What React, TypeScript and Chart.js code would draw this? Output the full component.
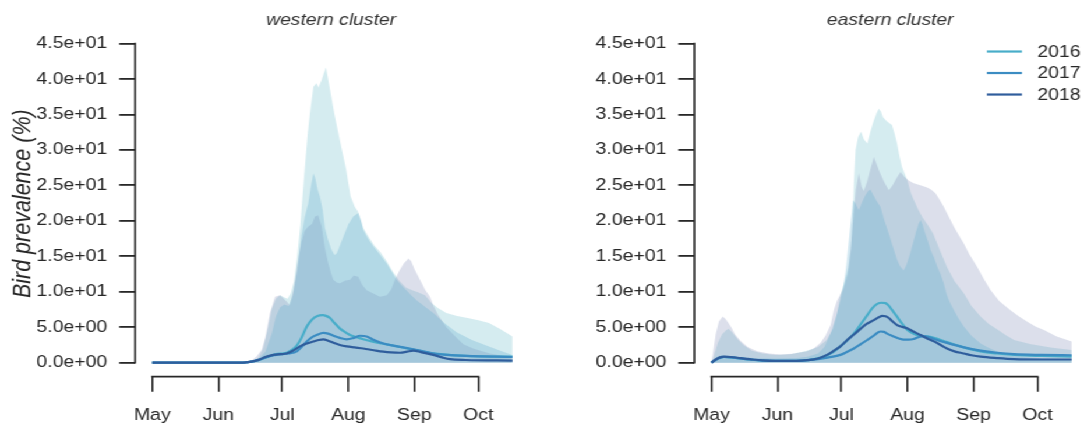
import { useEffect, useRef } from 'react';
import { Chart, registerables } from 'chart.js';

Chart.register(...registerables);

type Pt = [number, number];

const FONT_FAMILY = '"Liberation Sans", Arial, Helvetica, sans-serif';
const INK = '#282828';

// The figure is drawn narrow and widened with a CSS horizontal stretch.
const STRETCH_X = 1.165;
const PANEL_W = 480;
const PANEL_H = 427;

// x values are days counted from 1 May
const monthStarts = [0, 31, 61, 92, 123, 153];
const monthLabels = ['May', 'Jun', 'Jul', 'Aug', 'Sep', 'Oct'];
const yTickValues = [0, 5, 10, 15, 20, 25, 30, 35, 40, 45];
const years = ['2016', '2017', '2018'];
const lineColors = ['#48adc9', '#3b8cc2', '#2f5d9c'];
const bandColors = [
  'rgba(135, 201, 212, 0.35)',
  'rgba(102, 174, 210, 0.30)',
  'rgba(138, 148, 188, 0.30)',
];

// ---- western cluster: upper limits of the prevalence bands ----
const westBand2016: Pt[] = [
  [0, 0.05], [30, 0.05], [44, 0.1], [48, 0.3], [50, 0.8], [52, 2], [54, 4.5], [56, 7.5], [58, 9],
  [60, 9.5], [62, 9.2], [63.5, 9], [65, 9.8], [66.5, 11.5], [68, 15], [69.5, 19.5], [70.5, 23.5],
  [72, 29], [73, 32.5], [74, 35.2], [75.6, 38.9], [77, 39.4], [78, 38.8], [79.5, 39.9], [80.5, 40.8],
  [81.5, 41.6], [82.5, 40], [84, 37.5], [85.5, 35], [87, 32.8], [89, 30], [91, 27.2], [93, 23.5],
  [95, 22], [96.5, 21.3], [99, 19], [101, 18], [104, 16.6], [107, 15.6], [110, 14.3], [113, 12.8],
  [116, 11.5], [119, 10.6], [122, 10.2], [125, 9.9], [128, 9.5], [131, 8.4], [134, 7.7], [138, 7],
  [143, 6.6], [148, 6.3], [153, 6], [158, 5.6], [163, 4.8], [169, 3.7],
];
const westBand2017: Pt[] = [
  [0, 0.05], [30, 0.05], [46, 0.1], [50, 0.6], [53, 1.5], [56, 4], [58, 6.5], [60, 7.8], [62, 8.2],
  [64, 8], [66, 9.5], [68, 13], [70, 18], [71.5, 20.5], [73.2, 22.5], [74.5, 25], [75.6, 26.7],
  [76.5, 26], [77.5, 24.5], [78.7, 23.4], [80, 21.5], [81, 19], [82.5, 17.3], [84, 16], [85.5, 15.2],
  [86.5, 15.4], [88, 16.5], [89.7, 17.8], [92, 19.5], [94.3, 20.6], [96.7, 21.1], [98, 20],
  [99, 18.7], [101, 17.6], [103.7, 16.4], [107, 15.2], [110, 14], [112.5, 12.8], [114.7, 11.7],
  [117, 10.9], [119, 10.3], [121.5, 9.5], [124, 8.8], [128, 7.9], [131.9, 7], [137, 5.6],
  [142.8, 4.3], [150, 3.2], [158, 2.3], [164, 1.6], [169, 1.1],
];
const westBand2018: Pt[] = [
  [0, 0.05], [30, 0.05], [44, 0.1], [47, 0.4], [49, 0.9], [51.3, 1.8], [53, 3.5], [55.2, 7],
  [57.6, 9.3], [59.9, 9.5], [61.5, 9.1], [63.1, 8.6], [64.6, 8.1], [66.2, 10.2], [67.5, 12.5],
  [68.5, 14.5], [70, 17], [71.5, 18.6], [73.2, 19.2], [75, 19.6], [76.3, 20.6], [77.9, 20.8],
  [79.5, 19.2], [81, 16.2], [82.6, 14], [84, 12.5], [85, 11.7], [86.5, 11.3], [88.1, 11.2],
  [90.5, 11.6], [92.8, 11.7], [94.5, 12.3], [96.7, 12.1], [98.5, 11], [100.6, 10.2], [103.5, 9.8],
  [106.8, 9.3], [110, 9.5], [112, 10.3], [114, 11.8], [116, 13], [118, 14], [120.2, 14.7],
  [121.5, 14.3], [123, 13.2], [125.6, 11.7], [128, 10.3], [130.3, 9.3], [132, 8], [134, 6.8],
  [138, 5], [142.8, 3.5], [146, 2.6], [150.6, 2], [158.5, 1.3], [164, 1], [169, 0.8],
];

// ---- western cluster: mean prevalence ----
const westLine2016: Pt[] = [
  [0, 0], [40, 0], [45, 0.08], [50, 0.4], [55, 0.9], [58, 1.2], [61, 1.3], [63, 1.4], [65.5, 1.8],
  [67.8, 2.4], [70, 3.5], [72.5, 5.1], [75, 6.1], [77.5, 6.6], [80, 6.7], [81.5, 6.6], [83.4, 6.3],
  [85.5, 5.6], [88.1, 4.8], [90.5, 4.3], [92.8, 3.9], [95.9, 3.6], [99, 3.3], [103, 3.0],
  [108, 2.7], [113, 2.4], [118, 2.1], [123, 1.8], [128, 1.5], [133, 1.3], [138, 1.15], [145, 1.0],
  [155, 0.9], [169, 0.85],
];
const westLine2017: Pt[] = [
  [0, 0], [40, 0], [45, 0.08], [50, 0.4], [55, 0.9], [58, 1.1], [61, 1.2], [64, 1.3], [67.8, 1.6],
  [70, 2.2], [72.5, 3], [75, 3.6], [77.1, 3.9], [80.3, 4.2], [82.5, 4.1], [85, 3.8], [88, 3.5],
  [91.2, 3.3], [94.5, 3.5], [97.5, 3.8], [100.6, 3.7], [104, 3.2], [108.4, 2.7], [115, 2.3],
  [122.5, 1.9], [127, 1.6], [131.9, 1.3], [138, 1.1], [147.5, 0.95], [169, 0.8],
];
const westLine2018: Pt[] = [
  [0, 0], [40, 0], [45, 0.08], [50, 0.4], [53, 0.8], [56.8, 1.1], [60, 1.2], [63, 1.3], [66, 1.7],
  [69.3, 2.3], [72.5, 2.7], [75.6, 3], [78, 3.2], [80.3, 3.3], [82.5, 3.1], [85, 2.8], [88, 2.5],
  [91.2, 2.3], [95, 2.15], [99, 2], [104, 1.75], [108.4, 1.55], [112, 1.45], [116.2, 1.4],
  [119.5, 1.55], [122.5, 1.7], [126, 1.5], [131.9, 1.1], [136, 0.75], [139.7, 0.5], [147, 0.38],
  [169, 0.3],
];

// ---- eastern cluster: upper limits of the prevalence bands ----
const eastBand2016: Pt[] = [
  [0, 0], [1, 0.8], [3, 2.8], [5, 4], [7, 4.6], [8.1, 4.8], [10, 4.2], [12, 3.4], [15, 2.5],
  [19, 1.7], [24, 1.3], [30, 1.1], [37, 1.2], [44, 1.6], [50, 2.2], [54, 3.2], [57, 4.8], [59, 7],
  [60.5, 9.5], [62.5, 11.5], [64.4, 13.5], [65.5, 16], [66.3, 20], [66.8, 25.3], [67.6, 30],
  [68.8, 31.8], [70.2, 32.6], [71.5, 31.5], [73.1, 30.9], [74.5, 32.5], [76, 34], [77.5, 35.2],
  [78.5, 35.8], [79.5, 35.4], [80.5, 34.6], [82.4, 34], [84.7, 33.5], [86, 32.2], [87.1, 30.9],
  [88.3, 29], [89.4, 27.6], [91.8, 25.8], [93.5, 24], [95, 22.9], [97, 21.6], [99, 20.5],
  [101.5, 19.4], [104, 18.2], [107, 16], [110.5, 13.5], [114, 11.5], [118.4, 9.8], [122, 8],
  [126.3, 6.5], [130, 5.5], [134, 4.7], [138, 3.9], [142, 3.2], [150, 2.6], [160, 2.1], [169, 1.8],
];
const eastBand2017: Pt[] = [
  [0, 0], [1, 0.4], [3, 0.9], [5, 1.1], [7, 1.0], [10, 0.9], [15, 0.75], [20, 0.65], [30, 0.6],
  [40, 0.65], [45, 0.85], [50, 1.3], [53, 2.2], [56, 4.2], [58.5, 6.5], [60.5, 8.8], [62, 11],
  [63.2, 13.5], [64.8, 18.2], [66.4, 22.9], [67.5, 22.5], [69.1, 21.5], [70.5, 22.5], [72, 23.5],
  [73.5, 24.2], [74.6, 24.4], [76, 23.6], [77.5, 22.8], [79.3, 22], [81, 20.2], [83.2, 18.2],
  [85, 16.5], [87.1, 14.5], [88.5, 13.6], [90.2, 13], [91.5, 13.8], [93, 15.2], [94.5, 16.8],
  [96, 18.5], [97.2, 19.6], [98.1, 20.1], [99, 19.5], [100, 18.5], [101.5, 17.2], [102.8, 15.9],
  [104.5, 14.8], [106, 13.5], [107.5, 12.5], [109, 11.2], [110.5, 9.5], [112, 8.4], [114, 7.3],
  [116, 6.2], [118.4, 5.1], [122, 3.8], [126.3, 2.7], [130, 2.1], [134, 1.6], [138, 1.2],
  [141.9, 0.9], [150, 0.7], [160, 0.6], [169, 0.5],
];
const eastBand2018: Pt[] = [
  [0, 0], [1, 2], [2, 4], [3.5, 5.8], [5.3, 6.5], [6.5, 6.2], [8, 5.6], [9.5, 4.9], [11, 4],
  [13.6, 3.1], [17, 2.2], [21.4, 1.6], [27, 1.3], [32.4, 1.15], [38, 1.25], [44.9, 1.6], [48, 2],
  [51.2, 2.8], [53.5, 3.8], [55.9, 5.3], [57.5, 7.5], [59, 8.8], [60.5, 9.6], [62, 10.5],
  [64, 12.5], [65.5, 16.5], [66.8, 21.5], [67.8, 24.5], [69.1, 26.7], [70.5, 24.8], [71.5, 24.2],
  [73, 25.5], [74.5, 27.2], [76.2, 29], [77.5, 28], [79, 26.8], [81, 25.5], [83.2, 24.3], [85, 25],
  [86.8, 26], [88.7, 26.9], [90.5, 26.2], [92.5, 25.7], [94.9, 25.3], [98, 25], [101.2, 24.7],
  [103, 24.4], [105.1, 23.9], [107, 23], [109, 22], [111, 20.8], [113.7, 19.2], [116, 18],
  [118.4, 16.8], [121, 15.3], [124.7, 13.5], [128, 11.7], [131, 10.2], [135, 8.7], [140.3, 7.4],
  [144, 6.6], [148, 5.8], [152, 5.1], [156, 4.6], [162, 3.7], [169, 3],
];

// ---- eastern cluster: mean prevalence ----
const eastLine2016: Pt[] = [
  [0, 0], [2, 0.4], [4, 0.7], [6, 0.8], [9, 0.75], [13.6, 0.6], [18, 0.45], [24, 0.3], [30, 0.25],
  [40, 0.25], [45, 0.35], [48, 0.5], [52.7, 0.85], [56.5, 1.4], [60.5, 2.3], [63.5, 3.1],
  [66.8, 4.1], [70, 5.4], [73.1, 6.7], [75.5, 7.7], [77.8, 8.3], [79.8, 8.45], [81.7, 8.4],
  [83.3, 8], [84.8, 7.4], [86.8, 6.6], [88.7, 5.8], [91, 4.9], [93.4, 4.3], [96, 3.95],
  [98.5, 3.75], [101, 3.7], [104.4, 3.5], [110.5, 2.9], [118, 2.2], [126.3, 1.6], [134, 1.3],
  [141.9, 1.1], [155, 0.95], [169, 0.85],
];
const eastLine2017: Pt[] = [
  [0, 0], [2, 0.4], [4, 0.7], [6, 0.8], [9, 0.75], [13.6, 0.6], [18, 0.45], [24, 0.3], [30, 0.25],
  [40, 0.25], [45, 0.35], [50, 0.5], [55, 0.75], [60.5, 1.1], [63.5, 1.5], [66.8, 2], [70, 2.6],
  [73.1, 3.2], [76.5, 3.9], [79.3, 4.4], [81, 4.35], [82.4, 4.1], [85.5, 3.7], [88, 3.4],
  [90.2, 3.25], [92.5, 3.25], [94.9, 3.35], [97, 3.6], [99, 3.75], [101.5, 3.65], [104.4, 3.35],
  [110.5, 2.8], [118, 2.2], [126.3, 1.7], [134, 1.4], [141.9, 1.2], [155, 1.1], [169, 1.05],
];
const eastLine2018: Pt[] = [
  [0, 0], [2, 0.45], [4, 0.75], [6, 0.85], [9, 0.8], [13.6, 0.65], [18, 0.5], [24, 0.32], [30, 0.25],
  [40, 0.25], [45, 0.35], [50, 0.6], [54.2, 1.1], [57.5, 1.7], [60.5, 2.3], [63.7, 3.2], [67, 4],
  [70, 4.8], [73, 5.5], [76.2, 6], [78.5, 6.4], [80.1, 6.6], [81.7, 6.55], [83.2, 6.3], [85, 5.8],
  [87.1, 5.3], [89.5, 5.05], [91.8, 4.85], [93.4, 4.6], [96, 4.2], [98.1, 3.9], [101, 3.45],
  [104.4, 3], [107.5, 2.5], [110.5, 2], [114, 1.6], [118.4, 1.3], [122, 1.05], [126.3, 0.85],
  [134, 0.65], [141.9, 0.5], [155, 0.45], [169, 0.45],
];

interface PanelSpec {
  title: string;
  bands: Pt[][]; // 2016, 2017, 2018
  lines: Pt[][]; // 2016, 2017, 2018
  yTitle: boolean;
  legend: boolean;
}

const westSpec: PanelSpec = {
  title: 'western cluster',
  bands: [westBand2016, westBand2017, westBand2018],
  lines: [westLine2016, westLine2017, westLine2018],
  yTitle: true,
  legend: false,
};
const eastSpec: PanelSpec = {
  title: 'eastern cluster',
  bands: [eastBand2016, eastBand2017, eastBand2018],
  lines: [eastLine2016, eastLine2017, eastLine2018],
  yTitle: false,
  legend: true,
};

function sci(v: number): string {
  if (v === 0) return '0.0e+00';
  const e = Math.floor(Math.log10(Math.abs(v)));
  const m = v / Math.pow(10, e);
  return m.toFixed(1) + 'e' + (e < 0 ? '-' : '+') + String(Math.abs(e)).padStart(2, '0');
}

const toXY = (pts: Pt[]) => pts.map(([x, y]) => ({ x, y }));

// R-style axis lines running from the first to the last tick only
const axisLinesPlugin = {
  id: 'axisLines',
  afterDraw(chart: any) {
    const { ctx, chartArea, scales } = chart;
    const xs = scales.x;
    const ys = scales.y;
    ctx.save();
    ctx.strokeStyle = INK;
    ctx.lineCap = 'square';
    ctx.lineWidth = 1.6;
    ctx.beginPath();
    ctx.moveTo(chartArea.left, ys.getPixelForValue(yTickValues[0]));
    ctx.lineTo(chartArea.left, ys.getPixelForValue(yTickValues[yTickValues.length - 1]));
    ctx.stroke();
    ctx.lineWidth = 1.8;
    ctx.beginPath();
    ctx.moveTo(xs.getPixelForValue(monthStarts[0]), chartArea.bottom);
    ctx.lineTo(xs.getPixelForValue(monthStarts[monthStarts.length - 1]), chartArea.bottom);
    ctx.stroke();
    ctx.restore();
  },
};

// year key in the top-right corner of the plot
const yearKeyPlugin = {
  id: 'yearKey',
  afterDraw(chart: any) {
    const { ctx, chartArea } = chart;
    const x0 = chartArea.right - 85.3;
    const x1 = chartArea.right - 55.2;
    const xt = chartArea.right - 41.8;
    const rows = [20.8, 42.3, 63.8];
    ctx.save();
    ctx.font = `16.6px ${FONT_FAMILY}`;
    ctx.textBaseline = 'middle';
    ctx.textAlign = 'left';
    years.forEach((label, i) => {
      const y = chartArea.top + rows[i];
      ctx.strokeStyle = lineColors[i];
      ctx.lineWidth = 2.2;
      ctx.beginPath();
      ctx.moveTo(x0, y);
      ctx.lineTo(x1, y);
      ctx.stroke();
      ctx.fillStyle = INK;
      ctx.fillText(label, xt, y + 0.5);
    });
    ctx.restore();
  },
};

function buildConfig(spec: PanelSpec): any {
  // fills are layered 2016 (bottom), 2018, 2017 (top); the filler paints the last dataset first
  const bandOrder = [1, 2, 0];
  const bandSets = bandOrder.map((i) => ({
    label: years[i] + ' band',
    data: toXY(spec.bands[i]),
    fill: 'origin',
    backgroundColor: bandColors[i],
    borderColor: 'rgba(0,0,0,0)',
    borderWidth: 0,
    pointRadius: 0,
    tension: 0,
  }));
  const lineOrder = [2, 1, 0];
  const lineSets = lineOrder.map((i) => ({
    label: years[i],
    data: toXY(spec.lines[i]),
    fill: false,
    borderColor: lineColors[i],
    borderWidth: 2.2,
    pointRadius: 0,
    cubicInterpolationMode: 'monotone',
  }));

  const plugins: any[] = [axisLinesPlugin];
  if (spec.legend) plugins.push(yearKeyPlugin);

  return {
    type: 'line',
    data: { datasets: [...bandSets, ...lineSets] },
    plugins,
    options: {
      animation: false,
      responsive: false,
      devicePixelRatio: 1,
      events: [],
      layout: { padding: { left: 0, right: 27.6, top: 0, bottom: 0 } },
      elements: { point: { radius: 0 } },
      plugins: {
        legend: { display: false },
        tooltip: { enabled: false },
        filler: { drawTime: 'beforeDatasetsDraw' },
        title: {
          display: true,
          text: spec.title,
          fullSize: false,
          color: '#333333',
          font: { family: FONT_FAMILY, size: 16.6, style: 'italic', weight: 'normal', lineHeight: 1.2 },
          padding: { top: 10.7, bottom: 0.1 },
        },
      },
      scales: {
        x: {
          type: 'linear',
          min: -8.04,
          max: 175.85,
          afterBuildTicks: (s: any) => {
            s.ticks = monthStarts.map((v) => ({ value: v }));
          },
          afterFit: (s: any) => {
            s.height = 50.3;
          },
          ticks: {
            autoSkip: false,
            maxRotation: 0,
            padding: 13.6,
            color: INK,
            font: { family: FONT_FAMILY, size: 16.7 },
            callback: (v: any) => {
              const k = monthStarts.indexOf(Number(v));
              return k >= 0 ? monthLabels[k] : '';
            },
          },
          grid: {
            display: true,
            drawOnChartArea: false,
            drawTicks: true,
            tickLength: 15,
            color: INK,
            lineWidth: 1.6,
          },
          border: { display: false },
        },
        y: {
          type: 'linear',
          min: -1.974,
          max: 46.8,
          afterBuildTicks: (s: any) => {
            s.ticks = yTickValues.map((v) => ({ value: v }));
          },
          afterFit: (s: any) => {
            s.width = 116;
          },
          ticks: {
            autoSkip: false,
            padding: 10.3,
            color: INK,
            font: { family: FONT_FAMILY, size: 16.7 },
            callback: (v: any) => sci(Number(v)),
          },
          grid: {
            display: true,
            drawOnChartArea: false,
            drawTicks: true,
            tickLength: 13.7,
            color: INK,
            lineWidth: 1.8,
          },
          border: { display: false },
          title: {
            display: spec.yTitle,
            text: 'Bird prevalence (%)',
            color: INK,
            font: { family: FONT_FAMILY, size: 21.5, style: 'italic', lineHeight: 1.2 },
            padding: { top: 6.7, bottom: 0 },
          },
        },
      },
    },
  };
}

function Panel({ spec, left }: { spec: PanelSpec; left: number }) {
  const ref = useRef<HTMLCanvasElement>(null);
  useEffect(() => {
    const chart = new Chart(ref.current as HTMLCanvasElement, buildConfig(spec));
    return () => chart.destroy();
  }, [spec]);
  return (
    <canvas
      ref={ref}
      width={PANEL_W}
      height={PANEL_H}
      style={{ position: 'absolute', left, top: 0, width: PANEL_W, height: PANEL_H, display: 'block' }}
    />
  );
}

export default function App() {
  return (
    <div
      style={{
        position: 'absolute',
        left: 0,
        top: 0,
        width: 1083,
        height: 427,
        overflow: 'hidden',
        background: '#ffffff',
      }}
    >
      <div
        style={{
          position: 'absolute',
          left: 0,
          top: 0,
          width: PANEL_W * 2,
          height: PANEL_H,
          transform: `scaleX(${STRETCH_X})`,
          transformOrigin: '0 0',
        }}
      >
        <Panel spec={westSpec} left={0} />
        <Panel spec={eastSpec} left={PANEL_W} />
      </div>
    </div>
  );
}
